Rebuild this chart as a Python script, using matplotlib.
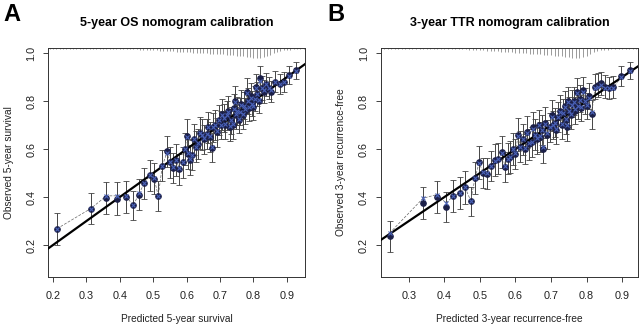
import numpy as np
import matplotlib
matplotlib.use("Agg")
import matplotlib.pyplot as plt

plt.rcParams['font.family'] = ['Liberation Sans', 'DejaVu Sans']

# ---- panel A: 5-year OS ----
pred_a = [0.212, 0.313, 0.360, 0.393, 0.418, 0.440, 0.458, 0.473, 0.490, 0.502,
          0.515, 0.527, 0.541, 0.550, 0.560, 0.568, 0.578, 0.588, 0.595, 0.600,
          0.605, 0.610, 0.616, 0.622, 0.628, 0.635, 0.640, 0.646, 0.652, 0.660,
          0.665, 0.670, 0.676, 0.680, 0.686, 0.692, 0.698, 0.702, 0.706, 0.712,
          0.716, 0.720, 0.725, 0.730, 0.734, 0.738, 0.742, 0.745, 0.748, 0.752,
          0.756, 0.760, 0.764, 0.768, 0.772, 0.776, 0.780, 0.784, 0.788, 0.792,
          0.796, 0.800, 0.804, 0.808, 0.812, 0.816, 0.820, 0.825, 0.830, 0.838,
          0.845, 0.852, 0.865, 0.878, 0.890, 0.905, 0.928]
obs_a = [0.268, 0.352, 0.395, 0.393, 0.400, 0.365, 0.410, 0.458, 0.490, 0.476,
         0.405, 0.530, 0.590, 0.545, 0.520, 0.555, 0.515, 0.545, 0.600, 0.655,
         0.580, 0.555, 0.575, 0.640, 0.610, 0.620, 0.667, 0.660, 0.640, 0.662,
         0.690, 0.650, 0.605, 0.690, 0.700, 0.670, 0.720, 0.700, 0.745, 0.730,
         0.700, 0.740, 0.760, 0.690, 0.720, 0.700, 0.770, 0.800, 0.740, 0.760,
         0.720, 0.755, 0.790, 0.740, 0.780, 0.760, 0.840, 0.800, 0.770, 0.820,
         0.790, 0.775, 0.810, 0.860, 0.830, 0.800, 0.895, 0.855, 0.840, 0.870,
         0.855, 0.840, 0.880, 0.870, 0.880, 0.910, 0.928]
corr_a = [0.268, 0.352, 0.405, 0.405, 0.405, 0.365, 0.415, 0.458, 0.490, 0.480,
          0.405, 0.530, 0.585, 0.545, 0.525, 0.555, 0.520, 0.545, 0.600, 0.650,
          0.585, 0.560, 0.575, 0.640, 0.610, 0.625, 0.665, 0.660, 0.645, 0.662,
          0.690, 0.655, 0.610, 0.690, 0.700, 0.675, 0.720, 0.700, 0.740, 0.730,
          0.705, 0.740, 0.755, 0.695, 0.720, 0.705, 0.765, 0.795, 0.745, 0.760,
          0.725, 0.755, 0.785, 0.745, 0.780, 0.765, 0.835, 0.800, 0.775, 0.815,
          0.790, 0.780, 0.810, 0.855, 0.830, 0.805, 0.885, 0.855, 0.845, 0.870,
          0.855, 0.845, 0.880, 0.870, 0.880, 0.905, 0.925]
err_a = [0.067, 0.065, 0.066, 0.068, 0.068, 0.062, 0.064, 0.065, 0.066, 0.064,
         0.062, 0.065, 0.066, 0.064, 0.063, 0.066, 0.064, 0.065, 0.066, 0.070,
         0.064, 0.063, 0.062, 0.066, 0.064, 0.062, 0.066, 0.064, 0.062, 0.063,
         0.064, 0.062, 0.060, 0.062, 0.063, 0.060, 0.062, 0.060, 0.064, 0.060,
         0.058, 0.060, 0.062, 0.058, 0.057, 0.058, 0.060, 0.064, 0.056, 0.058,
         0.055, 0.056, 0.058, 0.055, 0.056, 0.054, 0.056, 0.054, 0.053, 0.055,
         0.052, 0.052, 0.053, 0.055, 0.050, 0.050, 0.052, 0.050, 0.048, 0.048,
         0.046, 0.045, 0.044, 0.042, 0.040, 0.038, 0.035]

# ---- panel B: 3-year TTR ----
pred_b = [0.246, 0.340, 0.378, 0.405, 0.425, 0.444, 0.458, 0.474, 0.486, 0.497,
          0.510, 0.520, 0.530, 0.542, 0.550, 0.562, 0.570, 0.578, 0.585, 0.592,
          0.600, 0.607, 0.613, 0.620, 0.626, 0.632, 0.638, 0.646, 0.650, 0.655,
          0.660, 0.665, 0.670, 0.675, 0.678, 0.683, 0.690, 0.697, 0.702, 0.706,
          0.710, 0.715, 0.720, 0.725, 0.730, 0.734, 0.738, 0.742, 0.745, 0.748,
          0.752, 0.756, 0.760, 0.764, 0.768, 0.773, 0.777, 0.781, 0.785, 0.790,
          0.796, 0.800, 0.806, 0.815, 0.824, 0.832, 0.840, 0.852, 0.864, 0.875,
          0.897, 0.922]
obs_b = [0.237, 0.375, 0.400, 0.358, 0.404, 0.417, 0.440, 0.382, 0.478, 0.545,
         0.500, 0.498, 0.530, 0.554, 0.560, 0.588, 0.525, 0.560, 0.567, 0.600,
         0.580, 0.660, 0.610, 0.640, 0.600, 0.670, 0.620, 0.630, 0.690, 0.660,
         0.640, 0.700, 0.650, 0.680, 0.600, 0.710, 0.660, 0.690, 0.740, 0.700,
         0.710, 0.680, 0.733, 0.760, 0.700, 0.750, 0.780, 0.720, 0.690, 0.800,
         0.760, 0.740, 0.790, 0.800, 0.760, 0.840, 0.780, 0.810, 0.770, 0.845,
         0.800, 0.780, 0.820, 0.745, 0.860, 0.868, 0.875, 0.860, 0.855, 0.858,
         0.905, 0.928]
corr_b = [0.250, 0.395, 0.410, 0.375, 0.404, 0.417, 0.440, 0.385, 0.478, 0.540,
          0.505, 0.500, 0.530, 0.550, 0.560, 0.585, 0.530, 0.560, 0.567, 0.600,
          0.585, 0.655, 0.610, 0.640, 0.605, 0.665, 0.625, 0.630, 0.685, 0.660,
          0.645, 0.700, 0.655, 0.680, 0.610, 0.705, 0.665, 0.690, 0.735, 0.700,
          0.710, 0.685, 0.733, 0.755, 0.705, 0.750, 0.775, 0.725, 0.700, 0.795,
          0.760, 0.745, 0.785, 0.795, 0.765, 0.835, 0.780, 0.805, 0.775, 0.840,
          0.800, 0.785, 0.815, 0.755, 0.855, 0.860, 0.868, 0.855, 0.855, 0.855,
          0.900, 0.925]
err_b = [0.065, 0.068, 0.068, 0.062, 0.068, 0.066, 0.070, 0.060, 0.066, 0.068,
         0.064, 0.066, 0.064, 0.066, 0.064, 0.068, 0.062, 0.064, 0.066, 0.068,
         0.064, 0.070, 0.064, 0.066, 0.062, 0.066, 0.064, 0.062, 0.066, 0.064,
         0.060, 0.064, 0.062, 0.064, 0.060, 0.064, 0.060, 0.062, 0.064, 0.060,
         0.060, 0.058, 0.062, 0.064, 0.058, 0.060, 0.062, 0.058, 0.058, 0.060,
         0.058, 0.056, 0.058, 0.060, 0.056, 0.058, 0.056, 0.056, 0.054, 0.056,
         0.054, 0.054, 0.055, 0.060, 0.052, 0.050, 0.048, 0.048, 0.046, 0.045,
         0.042, 0.036]

# distribution of predicted values (rug at the top), bins 0.19 .. 0.95 by 0.01
rug_a = [1, 1, 1, 1, 1, 1, 1, 1, 1, 1, 1,
         1, 1, 1, 1, 1, 1, 1, 1, 1, 1, 1, 1, 1, 1, 1, 1, 2, 2, 2, 2,
         2, 2, 3, 3, 3, 3, 3, 4, 4, 4,
         4, 4, 5, 5, 5, 5, 5, 6, 6, 6,
         6, 6, 7, 7, 7, 8, 8, 8, 9, 9,
         10, 10, 10, 9, 8, 7, 5, 4, 3, 2,
         2, 2, 1, 1, 1, 1]
rug_b = [0, 0, 0, 1, 1, 1, 1, 1, 1, 1, 1,
         1, 1, 1, 1, 1, 1, 1, 1, 1, 1, 1, 1, 1, 1, 1, 1, 1, 2, 2, 2,
         2, 2, 3, 3, 3, 3, 4, 4, 4, 4,
         5, 5, 5, 5, 6, 6, 6, 6, 7, 7,
         7, 8, 8, 8, 9, 9, 10, 10, 10, 9,
         8, 6, 4, 3, 2, 2, 2, 1, 1, 1,
         1, 1, 1, 1, 1, 0]
rug_bins = np.round(np.arange(0.19, 0.955, 0.01), 2)

panels = [
    dict(letter="A", title="5-year OS nomogram calibration",
         xlabel="Predicted 5-year survival", ylabel="Observed 5-year survival",
         pred=pred_a, obs=obs_a, corr=corr_a, err=err_a, rug=rug_a,
         xlim=(0.185, 0.955), xticks=[0.2, 0.3, 0.4, 0.5, 0.6, 0.7, 0.8, 0.9],
         pos=[0.075, 0.148, 0.402, 0.704], lx=0.006),
    dict(letter="B", title="3-year TTR nomogram calibration",
         xlabel="Predicted 3-year recurrence-free",
         ylabel="Observed 3-year recurrence-free",
         pred=pred_b, obs=obs_b, corr=corr_b, err=err_b, rug=rug_b,
         xlim=(0.221, 0.945), xticks=[0.3, 0.4, 0.5, 0.6, 0.7, 0.8, 0.9],
         pos=[0.595, 0.148, 0.402, 0.704], lx=0.512),
]

fig = plt.figure(figsize=(6.4, 3.25), dpi=100)
ylim = (0.067, 1.021)

for p in panels:
    ax = fig.add_axes(p["pos"])
    x = np.array(p["pred"])
    y = np.array(p["obs"])
    e = np.array(p["err"])

    # rug of predicted risk along the top
    counts = np.array(p["rug"])
    ax.vlines(rug_bins, ylim[1] - counts * 0.0042, ylim[1],
              color="#8a8a8a", lw=0.6)

    # ideal line
    ax.plot([0, 1], [0, 1], color="black", lw=1.6, zorder=4)

    ax.errorbar(x, y, yerr=e, fmt="none", ecolor="#444444", elinewidth=0.7,
                capsize=2.0, capthick=0.6, zorder=2)
    ax.plot(x, p["corr"], color="#666666", lw=0.5, ls=(0, (4, 2)), zorder=3)
    ax.plot(x, y, "o", color="#1b1f48", ms=3.8, zorder=5)
    ax.plot(x, p["corr"], "x", color="#4a62b8", ms=3.4, mew=0.8, zorder=6)

    ax.set_xlim(p["xlim"])
    ax.set_ylim(ylim)
    ax.set_xticks(p["xticks"])
    ax.set_xticklabels([f"{t:.1f}" for t in p["xticks"]])
    ax.set_yticks([0.2, 0.4, 0.6, 0.8, 1.0])
    ax.set_yticklabels(["0.2", "0.4", "0.6", "0.8", "1.0"], rotation=90,
                       va="center")
    ax.tick_params(labelsize=7.8, length=3.5, width=0.6, colors="#222222")
    ax.tick_params(axis="x", pad=7)
    ax.tick_params(axis="y", pad=5)
    for s in ax.spines.values():
        s.set_linewidth(0.7)
        s.set_color("#333333")

    ax.set_xlabel(p["xlabel"], fontsize=7.3, labelpad=9, color="#222222")
    ax.set_ylabel(p["ylabel"], fontsize=7.3, labelpad=9, color="#222222")
    ax.set_title(p["title"], fontsize=9, fontweight="bold", pad=16)
    fig.text(p["lx"], 0.99, p["letter"], fontsize=17, fontweight="bold",
             va="top", ha="left")

fig.savefig("out.png", dpi=100)
